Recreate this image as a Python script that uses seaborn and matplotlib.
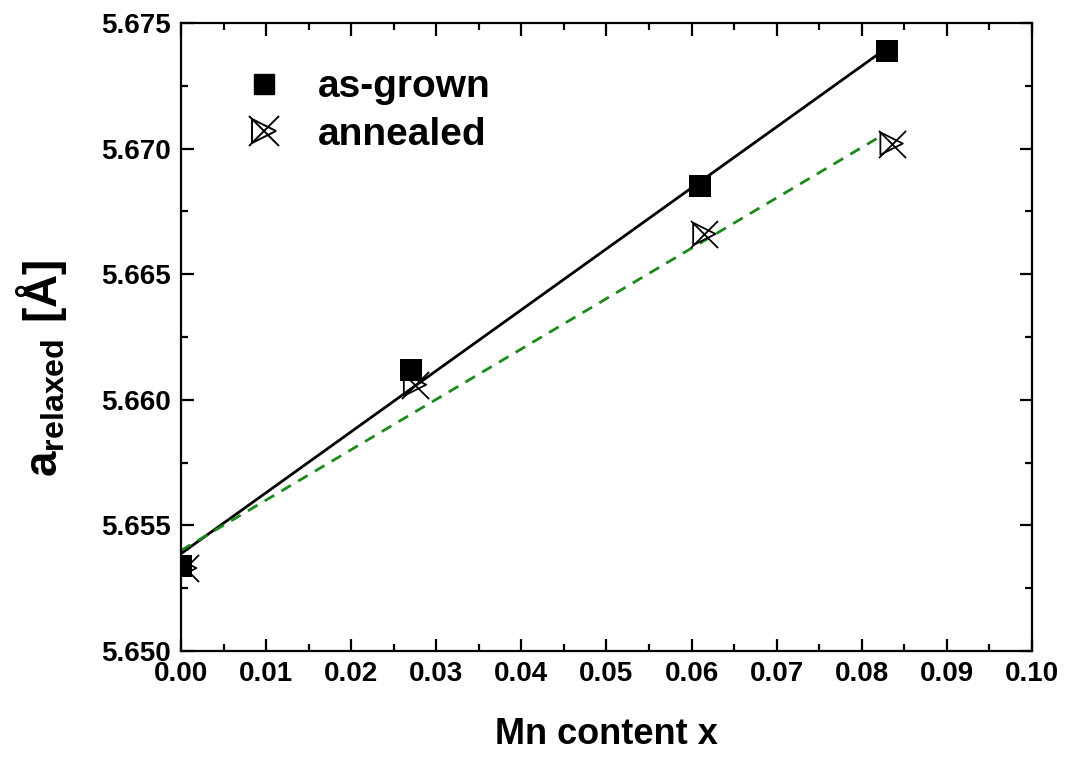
import numpy as np
import pandas as pd
import matplotlib
matplotlib.use("Agg")
import matplotlib.pyplot as plt
from matplotlib.ticker import MultipleLocator, FormatStrFormatter
from matplotlib.lines import Line2D
from matplotlib.legend_handler import HandlerTuple
import seaborn as sns

# Lattice parameter vs Mn content
x_grown = [0.0, 0.027, 0.061, 0.083]
a_grown = [5.6534, 5.6612, 5.6685, 5.6739]
x_annealed = [0.0005, 0.0275, 0.0615, 0.0835]
a_annealed = [5.6533, 5.6606, 5.6666, 5.6702]

sns.set_theme(style="ticks")
plt.rcParams['font.family'] = ['Liberation Sans', 'DejaVu Sans']
plt.rcParams['mathtext.fontset'] = 'custom'
plt.rcParams['mathtext.rm'] = 'Liberation Sans'
plt.rcParams['mathtext.bf'] = 'Liberation Sans:bold'
for key in ['text.color', 'axes.labelcolor', 'xtick.color', 'ytick.color',
            'axes.edgecolor']:
    plt.rcParams[key] = 'black'

fig = plt.figure(figsize=(10.69, 7.58), dpi=100)
ax = fig.add_axes([0.1693, 0.1412, 0.7961, 0.8285])

df_g = pd.DataFrame({"x": x_grown, "a": a_grown})
df_a = pd.DataFrame({"x": x_annealed, "a": a_annealed})

# Linear fits
pg = np.polyfit(x_grown, a_grown, 1)
pa = np.polyfit(x_annealed, a_annealed, 1)
xf_g = np.array([0.0, 0.083])
xf_a = np.array([0.0, 0.082])
sns.lineplot(x=xf_g, y=np.polyval(pg, xf_g), ax=ax, color="black", lw=2.0)
sns.lineplot(x=xf_a, y=np.polyval(pa, xf_a), ax=ax, color="#1a8a1a", lw=2.0,
             linestyle=(0, (4, 3)))

sns.scatterplot(data=df_g, x="x", y="a", ax=ax, marker="s", s=260,
                color="black", edgecolor="black", linewidth=0, zorder=5)
sns.scatterplot(data=df_a, x="x", y="a", ax=ax, marker="x", s=380,
                color="black", linewidth=1.3, zorder=6)
sns.scatterplot(data=df_a, x="x", y="a", ax=ax, marker=">", s=260,
                facecolor="none", edgecolor="black", linewidth=1.3, zorder=6)

ax.set_xlim(0.0, 0.10)
ax.set_ylim(5.650, 5.675)
ax.xaxis.set_major_locator(MultipleLocator(0.01))
ax.xaxis.set_minor_locator(MultipleLocator(0.005))
ax.yaxis.set_major_locator(MultipleLocator(0.005))
ax.yaxis.set_minor_locator(MultipleLocator(0.0025))
ax.xaxis.set_major_formatter(FormatStrFormatter('%.2f'))
ax.yaxis.set_major_formatter(FormatStrFormatter('%.3f'))

ax.tick_params(which='both', direction='in', top=True, right=True, width=1.6,
               labelsize=20)
ax.tick_params(which='major', length=9, pad=7)
ax.tick_params(which='minor', length=5)
for lab in ax.get_xticklabels() + ax.get_yticklabels():
    lab.set_fontweight('bold')
for sp in ax.spines.values():
    sp.set_linewidth(1.6)

ax.set_xlabel("Mn content x", fontsize=26, fontweight='bold', labelpad=22)
ax.set_ylabel(r"$\mathbf{a}_{\mathbf{relaxed}}\ \mathbf{[\AA]}$", fontsize=33)
ax.yaxis.set_label_coords(-0.132, 0.45)

h_grown = Line2D([], [], marker='s', ls='none', color='black', markersize=15)
h_x = Line2D([], [], marker='x', ls='none', color='black', markersize=21, mew=1.4)
h_t = Line2D([], [], marker='>', ls='none', markerfacecolor='none',
             markeredgecolor='black', markersize=17, mew=1.4)
leg = ax.legend([h_grown, (h_x, h_t)], ["as-grown", "annealed"],
                handler_map={tuple: HandlerTuple(ndivide=1, pad=0)},
                loc='upper left', bbox_to_anchor=(0.033, 0.982), frameon=False,
                prop={'size': 28, 'weight': 'bold'}, handlelength=1.0,
                handletextpad=0.9, labelspacing=0.3)

fig.savefig("out.png", dpi=100)
